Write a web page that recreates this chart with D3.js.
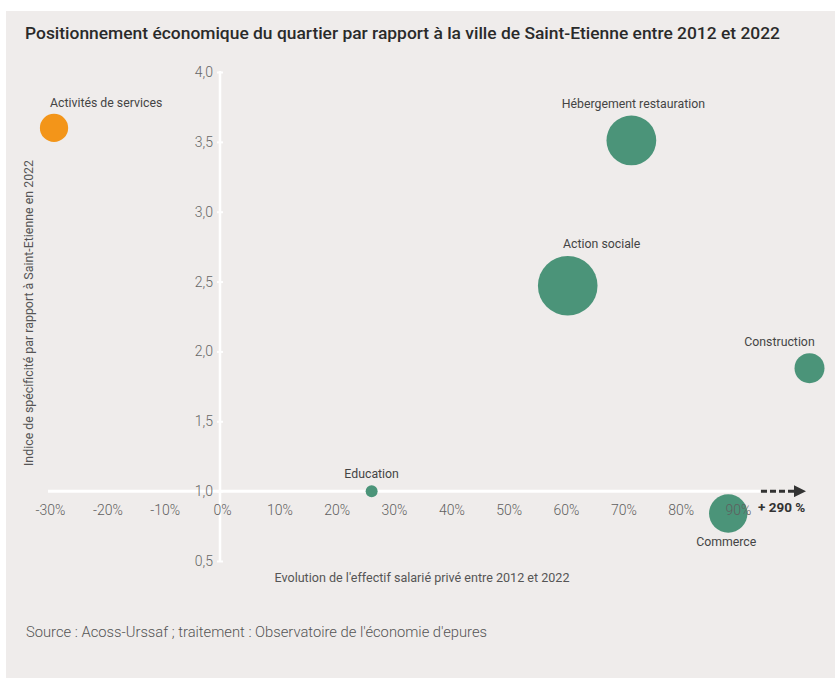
<!DOCTYPE html>
<html><head><meta charset="utf-8">
<script src="https://cdn.jsdelivr.net/npm/d3@7"></script>
<style>
html,body{margin:0;padding:0;background:#fff;}
svg{display:block;font-family:Roboto, "Noto Sans", sans-serif;}
</style></head>
<body>
<svg id="chart" width="835" height="678"></svg>
<script>
// ---- Data ----
const sectors   = ["Activités de services","Hébergement restauration","Action sociale","Construction","Education","Commerce"];
const growth    = [-29.3, 71.4, 60.3, 290, 26.1, 88.3];      // evolution 2012-2022 (%)
const specIndex = [3.60, 3.51, 2.47, 1.88, 1.00, 0.84];       // indice de spécificité
const headcount = [200, 620, 890, 225, 36, 370];             // bubble size (effectif, relative)
const sectorColor = ["orange","green","green","green","green","green"];
const xTicks = [-30,-20,-10,0,10,20,30,40,50,60,70,80,90];
const yTicks = [0.5,1.0,1.5,2.0,2.5,3.0,3.5,4.0];
const title = "Positionnement économique du quartier par rapport à la ville de Saint-Etienne entre 2012 et 2022";
const xTitle = "Evolution de l'effectif salarié privé entre 2012 et 2022";
const yTitle = "Indice de spécificité par rapport à Saint-Etienne en 2022";
const source = "Source : Acoss-Urssaf ; traitement : Observatoire de l'économie d'epures";
const breakLabel = "+ 290 %";

// ---- Styles / layout ----
const palette = {orange:"#f39519", green:"#4b9479"};
const svg = d3.select("#chart");
svg.append("rect").attr("x",6).attr("y",11).attr("width",829).attr("height",667).attr("fill","#efeceb");

// broken x axis: values beyond 90% are compressed beyond the axis end
const x = d3.scaleLinear().domain([-30, 90, 290]).range([50, 738, 809.5]);
const y = d3.scaleLinear().domain([0.5, 4]).range([561, 72]);
const r = d3.scaleSqrt().domain([0, 890]).range([0, 29.8]);

// title
svg.append("text").attr("x",25).attr("y",38.5).attr("fill","#2a2a2a")
  .attr("font-size",17).attr("font-weight",500).attr("textLength",755).attr("lengthAdjust","spacingAndGlyphs")
  .text(title);

// x axis line (at y = 1.0)
svg.append("line").attr("x1",48).attr("x2",760).attr("y1",y(1)).attr("y2",y(1))
  .attr("stroke","#fff").attr("stroke-width",3);
// y axis line
svg.append("line").attr("x1",220).attr("x2",220).attr("y1",y(4)-1).attr("y2",y(0.5)+1)
  .attr("stroke","#fff").attr("stroke-width",2.5);

// y axis ticks & labels
const yAxis = d3.axisLeft(y).tickValues(yTicks).tickSize(3).tickPadding(5)
  .tickFormat(d => d3.format(".1f")(d).replace(".",","));
const gy = svg.append("g").attr("transform","translate(221,0)").call(yAxis);
gy.select(".domain").remove();
gy.selectAll(".tick line").attr("stroke","#fff").attr("stroke-width",2).attr("x2",-4).attr("x1",2);
gy.selectAll(".tick text").attr("fill","#666").attr("font-size",14).attr("font-family","Roboto, sans-serif").attr("font-weight",300);

// bubbles
const data = sectors.map((s,i)=>({name:s, gx:growth[i], sy:specIndex[i], n:headcount[i], c:palette[sectorColor[i]]}));
svg.append("g").selectAll("circle").data(data).join("circle")
  .attr("cx",d=>x(d.gx)).attr("cy",d=>y(d.sy)).attr("r",d=>r(d.n))
  .attr("fill",d=>d.c);

// x axis labels (drawn above bubbles)
const xAxis = d3.axisBottom(x).tickValues(xTicks).tickSize(0).tickPadding(14)
  .tickFormat(d => d + "%");
const gx = svg.append("g").attr("transform",`translate(0,${y(1)})`).call(xAxis);
gx.select(".domain").remove();
gx.selectAll(".tick text").attr("fill","#5f5f5f").attr("font-size",14).attr("font-family","Roboto, sans-serif").attr("font-weight",300);

// bubble labels (offsets from bubble centre)
const labelOffset = {
  "Activités de services":[-4,-21,"start"],
  "Hébergement restauration":[2,-32,"middle"],
  "Action sociale":[34,-38,"middle"],
  "Construction":[-30,-22,"middle"],
  "Education":[0,-13,"middle"],
  "Commerce":[-2,33,"middle"]
};
svg.append("g").selectAll("text").data(data).join("text")
  .attr("x",d=>x(d.gx)+labelOffset[d.name][0])
  .attr("y",d=>y(d.sy)+labelOffset[d.name][1])
  .attr("text-anchor",d=>labelOffset[d.name][2])
  .attr("fill","#444").attr("font-size",12.3).text(d=>d.name);

// break arrow
const ay = y(1);
svg.append("defs").append("marker").attr("id","ah").attr("viewBox","0 0 10 10")
  .attr("refX",5).attr("refY",5).attr("markerWidth",4).attr("markerHeight",4).attr("orient","auto")
  .append("path").attr("d","M0,0 L10,5 L0,10 Z").attr("fill","#333");
svg.append("line").attr("x1",761).attr("x2",800).attr("y1",ay).attr("y2",ay)
  .attr("stroke","#333").attr("stroke-width",3).attr("stroke-dasharray","6,3")
  .attr("marker-end","url(#ah)");
svg.append("text").attr("x",758).attr("y",512).attr("fill","#333").attr("font-size",13.5)
  .attr("font-weight",700).text(breakLabel);

// axis titles
svg.append("text").attr("x",422).attr("y",582).attr("text-anchor","middle")
  .attr("fill","#555").attr("font-size",12).attr("textLength",295).attr("lengthAdjust","spacingAndGlyphs").text(xTitle);
svg.append("text").attr("transform","translate(33,313) rotate(-90)").attr("text-anchor","middle")
  .attr("fill","#555").attr("font-size",12).attr("textLength",306).attr("lengthAdjust","spacingAndGlyphs").text(yTitle);

// source
svg.append("text").attr("x",26).attr("y",636.5).attr("fill","#555").attr("font-size",14)
  .attr("font-weight",300).attr("textLength",461).attr("lengthAdjust","spacingAndGlyphs").text(source);
</script>
</body></html>
